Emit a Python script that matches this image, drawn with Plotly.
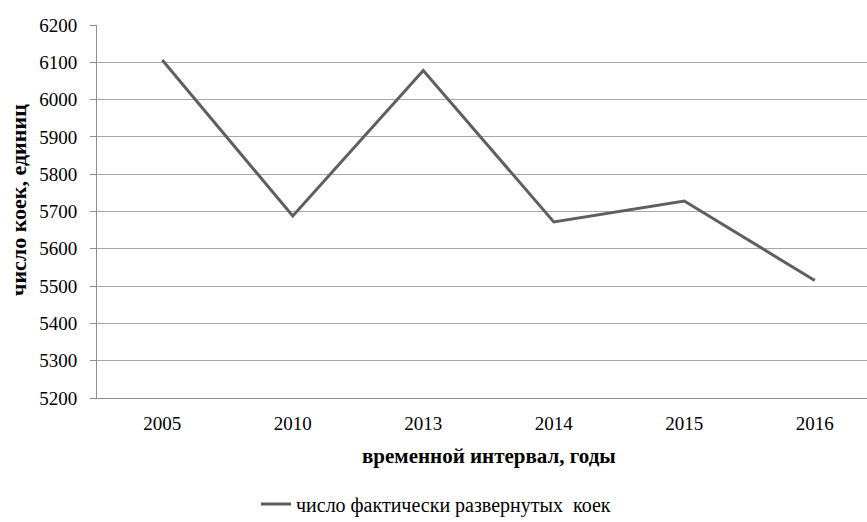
import plotly.graph_objects as go

years = ["2005", "2010", "2013", "2014", "2015", "2016"]
beds = [6106, 5688, 6078, 5672, 5728, 5515]
y_ticks = [5200, 5300, 5400, 5500, 5600, 5700, 5800, 5900, 6000, 6100, 6200]

series_name = "число фактически развернутых  коек"
x_title = "временной интервал, годы"
y_title = "число коек, единиц"

FF = "Liberation Serif"

H, W = 522, 867
plot_top, plot_bottom, plot_left = 25, 398, 97
h = plot_bottom - plot_top
w = W - plot_left

fig = go.Figure()
fig.add_trace(go.Scatter(
    x=years, y=beds, mode="lines", name=series_name,
    line=dict(color="#5f5f5f", width=3),
))

fig.update_layout(
    width=W, height=H,
    margin=dict(l=plot_left, r=0, t=plot_top, b=H - plot_bottom),
    paper_bgcolor="white", plot_bgcolor="white",
    font=dict(family=FF, size=19, color="black"),
    showlegend=True,
    legend=dict(orientation="h", x=256 / W, xref="container", xanchor="left",
                y=(H - 504) / H, yref="container", yanchor="middle",
                font=dict(family=FF, size=20, color="black")),
    xaxis=dict(
        type="category", range=[-0.5, 5.4],
        showline=True, linecolor="#909090", linewidth=1,
        showgrid=False, ticks="", ticklabelstandoff=8,
        tickfont=dict(family=FF, size=19, color="black"),
    ),
    yaxis=dict(
        range=[5200, 6200], tickvals=y_ticks,
        showline=True, linecolor="#909090", linewidth=1,
        showgrid=True, gridcolor="#a8a8a8", gridwidth=1,
        ticks="outside", ticklen=6, tickcolor="#909090",
        ticklabelstandoff=9,
        tickfont=dict(family=FF, size=19, color="black"),
        zeroline=False,
    ),
    annotations=[
        dict(text="<b>" + x_title + "</b>", x=2.5, xref="x", xanchor="center",
             y=(plot_bottom - 456) / h, yref="paper", yanchor="middle",
             showarrow=False, font=dict(family=FF, size=21, color="black")),
        dict(text="<b>" + y_title + "</b>",
             x=(18 - plot_left) / w, xref="paper", xanchor="center",
             y=(plot_bottom - 200) / h, yref="paper", yanchor="middle",
             showarrow=False, textangle=-90,
             font=dict(family=FF, size=22, color="black")),
    ],
)

fig.write_html("out.html")
